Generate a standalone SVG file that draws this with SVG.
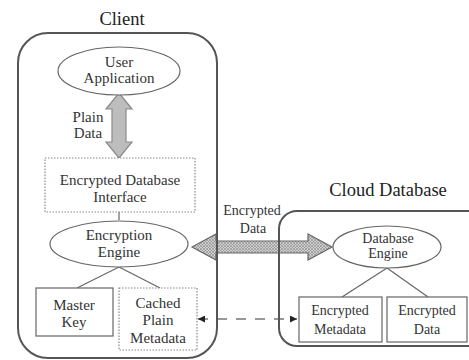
<svg xmlns="http://www.w3.org/2000/svg" width="469" height="360" viewBox="0 0 469 360" font-family="'Liberation Serif', 'Times New Roman', 'DejaVu Serif', serif">
  <style>
    text { font-family: 'Liberation Serif', 'Times New Roman', 'DejaVu Serif', serif; fill: #333; text-anchor: middle; }
    .t { font-size: 15px; }
    .title { font-size: 18.5px; fill: #222; }
    .sm { font-size: 14px; }
    .container { fill: none; stroke: #555; stroke-width: 2; }
    .node { fill: #fff; stroke: #666; stroke-width: 1.2; }
    .dotted { fill: #fff; stroke: #888; stroke-width: 1.2; stroke-dasharray: 1.5 1.5; }
    .link { fill: none; stroke: #666; stroke-width: 1.2; }
  </style>
  <defs>
    <pattern id="hatch" width="3" height="3" patternUnits="userSpaceOnUse">
      <rect width="3" height="3" fill="#d0d0d0"/>
      <path d="M0,3 L3,0 M0,0 L3,3" stroke="#888" stroke-width="0.6"/>
    </pattern>
    <marker id="head" viewBox="0 0 10 10" refX="10" refY="5" markerWidth="8" markerHeight="7" markerUnits="userSpaceOnUse" orient="auto-start-reverse">
      <path d="M0,0 L10,5 L0,10 Z" fill="#222"/>
    </marker>
  </defs>

  <!-- titles -->
  <text class="title" x="122" y="25">Client</text>
  <text class="title" x="388" y="196">Cloud Database</text>

  <!-- connectors -->
  <g id="connectors">
    <!-- plain data flow -->
    <path d="M119,93 L132,109 L126,109 L126,142 L132,142 L119,158 L106,142 L112,142 L112,109 L106,109 Z" fill="#bdbdbd" stroke="#8a8a8a" stroke-width="1.2"/>
    <!-- encrypted data flow -->
    <path d="M192,247 L216,234 L216,241 L308,241 L308,234 L332,247 L308,260 L308,253 L216,253 L216,260 Z" fill="url(#hatch)" stroke="#666" stroke-width="1.2"/>
    <!-- tree links -->
    <line class="link" x1="119" y1="212" x2="119" y2="220"/>
    <line class="link" x1="119" y1="267" x2="77" y2="288"/>
    <line class="link" x1="119" y1="267" x2="160" y2="288"/>
    <line class="link" x1="387" y1="268" x2="342" y2="297"/>
    <line class="link" x1="387" y1="268" x2="428" y2="297"/>
    <!-- metadata sync -->
    <line x1="198" y1="319" x2="297" y2="319" stroke="#777" stroke-width="1.3" stroke-dasharray="10 9" marker-start="url(#head)" marker-end="url(#head)"/>
  </g>

  <!-- containers -->
  <rect class="container" x="18" y="33" width="199" height="325" rx="30"/>
  <rect class="container" x="279" y="211" width="215" height="135" rx="18"/>

  <g id="user-application">
    <ellipse class="node" cx="119" cy="71" rx="61" ry="24"/>
    <text class="t" x="119" y="67">User</text>
    <text class="t" x="119" y="83">Application</text>
  </g>

  <text class="t" x="88" y="122">Plain</text>
  <text class="t" x="88" y="138">Data</text>

  <g id="encrypted-db-interface">
    <rect class="dotted" x="45" y="158" width="150" height="54"/>
    <text class="t" x="120" y="185">Encrypted Database</text>
    <text class="t" x="120" y="202">Interface</text>
  </g>

  <g id="encryption-engine">
    <ellipse class="node" cx="119" cy="244" rx="69" ry="23"/>
    <text class="t" x="119" y="240">Encryption</text>
    <text class="t" x="119" y="257">Engine</text>
  </g>

  <g id="master-key">
    <rect class="node" x="36" y="288" width="77" height="48"/>
    <text class="t" x="74" y="310">Master</text>
    <text class="t" x="74" y="327">Key</text>
  </g>

  <g id="cached-plain-metadata">
    <rect class="dotted" x="119" y="288" width="78" height="62"/>
    <text class="t" x="158" y="308">Cached</text>
    <text class="t" x="158" y="325">Plain</text>
    <text class="t" x="158" y="343">Metadata</text>
  </g>

  <text class="sm" x="252" y="215">Encrypted</text>
  <text class="sm" x="253" y="233">Data</text>

  <g id="database-engine">
    <ellipse class="node" cx="387" cy="247" rx="54" ry="21"/>
    <text class="sm" x="388" y="243">Database</text>
    <text class="sm" x="388" y="258">Engine</text>
  </g>

  <g id="encrypted-metadata">
    <rect class="node" x="299" y="297" width="83" height="45"/>
    <text class="sm" x="340" y="315">Encrypted</text>
    <text class="sm" x="340" y="334">Metadata</text>
  </g>

  <g id="encrypted-data">
    <rect class="node" x="387" y="297" width="80" height="45"/>
    <text class="sm" x="427" y="315">Encrypted</text>
    <text class="sm" x="427" y="334">Data</text>
  </g>
</svg>
